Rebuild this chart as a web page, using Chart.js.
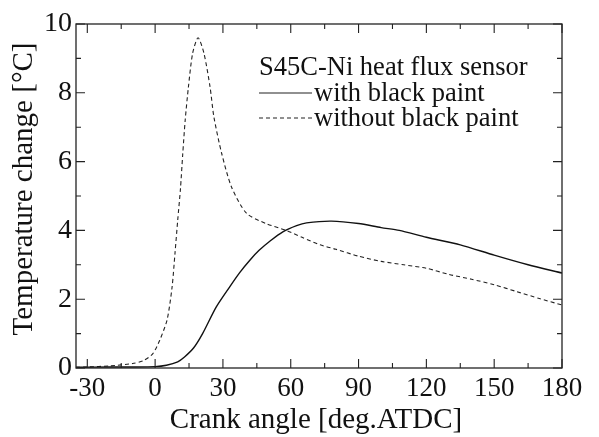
<!DOCTYPE html>
<html lang="en">
  <head>
    <meta charset="UTF-8" />
    <title>Temperature change</title>
    <script src="https://cdn.jsdelivr.net/npm/chart.js"></script>
    <style>
      html, body { margin: 0; padding: 0; background: #fff; }
      #wrap { width: 599px; height: 437px; }
    </style>
  </head>
  <body>
    <div id="wrap"><canvas id="tempChart"></canvas></div>

    <script>
      // values
      const paintAngles = [-35, -20, -10, 0, 5, 10, 13, 17, 21, 27, 33, 37.5, 42, 46, 51, 56.5, 62.6, 67, 78, 90, 100, 108, 120, 135, 150, 165, 180];
      const paintValues = [0.02, 0.03, 0.03, 0.04, 0.08, 0.18, 0.32, 0.58, 1.0, 1.77, 2.36, 2.78, 3.14, 3.42, 3.7, 3.96, 4.14, 4.22, 4.27, 4.2, 4.08, 4.0, 3.8, 3.58, 3.28, 3.0, 2.76];

      const noPaintAngles = [-35, -30, -20, -10, -5, -1, 2, 5.3, 7.5, 8.8, 10, 11.2, 12.2, 13.3, 14.7, 16.6, 19, 21.6, 24.3, 26, 29.4, 33.8, 40.4, 49, 58, 65, 73, 80, 90, 100, 110, 120, 130, 140, 150, 160, 170, 180];
      const noPaintValues = [0.02, 0.03, 0.06, 0.13, 0.22, 0.42, 0.8, 1.4, 2.35, 3.34, 4.3, 5.2, 6.2, 7.2, 8.15, 9.15, 9.6, 9.15, 8.17, 7.3, 6.25, 5.26, 4.5, 4.2, 4.0, 3.8, 3.58, 3.45, 3.25, 3.1, 3.0, 2.9, 2.72, 2.58, 2.42, 2.22, 2.02, 1.83];

      const xMajorTicks = [-30, 0, 30, 60, 90, 120, 150, 180];
      const xMinorTicks = [-15, 15, 45, 75, 105, 135, 165];
      const yMajorTicks = [0, 2, 4, 6, 8, 10];
      const yMinorTicks = [1, 3, 5, 7, 9];

      const legendTitle = "S45C-Ni heat flux sensor";
      const seriesNames = ["with black paint", "without black paint"];

      const toPoints = (xs, ys) => xs.map((x, i) => ({ x: x, y: ys[i] }));
      const serif = "Liberation Serif";

      // box, inward ticks on all sides, axis titles and the legend
      const framePlugin = {
        id: "frame",
        afterDraw(chart) {
          const ctx = chart.ctx;
          const a = chart.chartArea;
          const xs = chart.scales.x;
          const ys = chart.scales.y;
          ctx.save();
          ctx.strokeStyle = "#222";
          ctx.lineWidth = 1.3;
          ctx.strokeRect(a.left, a.top, a.right - a.left, a.bottom - a.top);

          ctx.lineWidth = 1.1;
          ctx.beginPath();
          const xTick = (v, len) => {
            const px = xs.getPixelForValue(v);
            ctx.moveTo(px, a.bottom); ctx.lineTo(px, a.bottom - len);
            ctx.moveTo(px, a.top); ctx.lineTo(px, a.top + len);
          };
          const yTick = (v, len) => {
            const py = ys.getPixelForValue(v);
            ctx.moveTo(a.left, py); ctx.lineTo(a.left + len, py);
            ctx.moveTo(a.right, py); ctx.lineTo(a.right - len, py);
          };
          xMajorTicks.forEach((v) => xTick(v, 9));
          xMinorTicks.forEach((v) => xTick(v, 5));
          yMajorTicks.forEach((v) => yTick(v, 9));
          yMinorTicks.forEach((v) => yTick(v, 5));
          ctx.stroke();

          // axis titles
          ctx.fillStyle = "#111";
          ctx.font = "29px '" + serif + "'";
          ctx.textAlign = "center";
          ctx.textBaseline = "middle";
          ctx.fillText("Crank angle [deg.ATDC]", 316, 420);
          ctx.save();
          ctx.translate(24, 189);
          ctx.rotate(-Math.PI / 2);
          ctx.fillText("Temperature change [°C]", 0, 0);
          ctx.restore();

          // legend
          ctx.font = "26.5px '" + serif + "'";
          ctx.textAlign = "left";
          ctx.fillText(legendTitle, 259, 68);
          ctx.fillText(seriesNames[0], 314, 94);
          ctx.fillText(seriesNames[1], 314, 119);
          ctx.lineWidth = 1.1;
          ctx.beginPath();
          ctx.moveTo(259, 93); ctx.lineTo(312, 93);
          ctx.stroke();
          ctx.setLineDash([4, 3]);
          ctx.beginPath();
          ctx.moveTo(259, 118); ctx.lineTo(312, 118);
          ctx.stroke();
          ctx.restore();
        },
      };

      new Chart(document.getElementById("tempChart"), {
        type: "line",
        data: {
          datasets: [
            {
              label: seriesNames[0],
              data: toPoints(paintAngles, paintValues),
              borderColor: "#111",
              borderWidth: 1.4,
              pointRadius: 0,
              tension: 0.25,
            },
            {
              label: seriesNames[1],
              data: toPoints(noPaintAngles, noPaintValues),
              borderColor: "#222",
              borderWidth: 1.1,
              borderDash: [4, 3],
              pointRadius: 0,
              tension: 0.25,
            },
          ],
        },
        options: {
          responsive: true,
          maintainAspectRatio: false,
          animation: false,
          layout: { padding: { left: 0, top: 24, right: 37, bottom: 0 } },
          plugins: {
            legend: { display: false },
            tooltip: { enabled: false },
          },
          scales: {
            x: {
              type: "linear",
              min: -35,
              max: 180,
              afterBuildTicks: (scale) => {
                scale.ticks = xMajorTicks.map((v) => ({ value: v }));
              },
              afterFit: (scale) => { scale.height = 69; },
              grid: { display: false, drawTicks: false },
              border: { display: false },
              ticks: {
                color: "#111",
                font: { family: serif, size: 27 },
                padding: 5,
                maxRotation: 0,
                autoSkip: false,
              },
            },
            y: {
              min: 0,
              max: 10,
              afterBuildTicks: (scale) => {
                scale.ticks = yMajorTicks.map((v) => ({ value: v }));
              },
              afterFit: (scale) => { scale.width = 76; },
              grid: { display: false, drawTicks: false },
              border: { display: false },
              ticks: {
                color: "#111",
                font: { family: serif, size: 28 },
                padding: 4,
              },
            },
          },
        },
        plugins: [framePlugin],
      });
    </script>
  </body>
</html>
